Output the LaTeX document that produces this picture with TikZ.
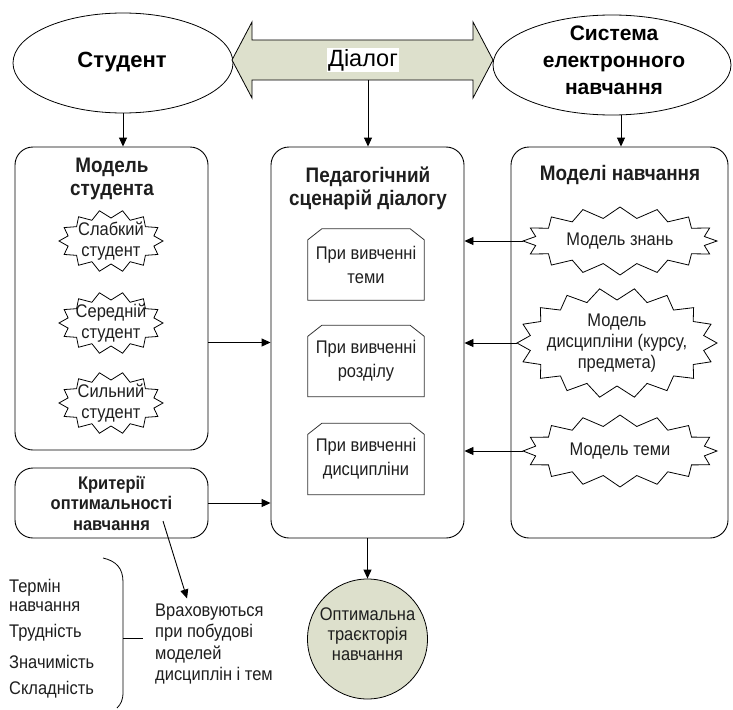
\documentclass[tikz,border=0pt]{standalone}
\usepackage{fontspec}
\setmainfont{Liberation Sans}[FakeStretch=0.9]
\newfontfamily\plainsans{Liberation Sans}
\usetikzlibrary{arrows.meta,shapes.geometric,calc}
\definecolor{olv}{RGB}{221,224,204}
\definecolor{txt}{RGB}{30,30,30}
\newcommand{\boom}[5]{%
  \draw[line width=0.8pt] ($(#1)+(#2,0)$)
   \foreach \k in {1,...,#5} {
     -- ($(#1)+({(#2-#4)*cos((\k-0.5)*360/#5)},{(#3-#4)*sin((\k-0.5)*360/#5)})$)
     -- ($(#1)+({#2*cos(\k*360/#5)},{#3*sin(\k*360/#5)})$)
   } -- cycle;}
\newcommand{\snipbox}[1]{%
  \draw[line width=0.8pt, draw=black!80] (#1.south west) -- ($(#1.north west)+(0,11)$)
    -- ($(#1.north west)+(14,0)$) -- ($(#1.north east)+(-14,0)$)
    -- ($(#1.north east)+(0,11)$) -- (#1.south east) -- cycle;}
\begin{document}
\begin{tikzpicture}[x=1pt,y=-1pt,
  arr/.style={-{Triangle[length=9pt,width=8pt]}, line width=0.9pt},
  panel/.style={draw, line width=0.9pt, rounded corners=18pt},
  ttl/.style={font=\bfseries\fontsize{21}{23}\selectfont, text=txt, align=center},
  reg/.style={font=\fontsize{18.3}{20}\selectfont, text=txt, align=center},
  starn/.style={rectangle, draw=none, inner sep=0pt, align=center, font=\fontsize{18.3}{21}\selectfont, text=txt},
  snipn/.style={draw=none, minimum width=116pt, minimum height=71pt, align=center, font=\fontsize{18.3}{24}\selectfont, text=txt},
  oval/.style={ellipse, draw, line width=0.8pt}
]
\useasboundingbox (0,0) rectangle (733,709);

% top ellipses
\node[oval, minimum width=220pt, minimum height=100pt] (stud) at (123,63) {};
\node[font=\plainsans\bfseries\fontsize{22}{28}\selectfont] (studt) at (122,62) {Студент};
\node[oval, minimum width=238pt, minimum height=100pt] (sys) at (612,65) {};
\node[align=center, font=\plainsans\bfseries\fontsize{21}{27}\selectfont] (syst) at (614,60) {Система\\електронного\\навчання};

% dialog double arrow
\draw[fill=olv, line width=0.8pt] (232,60) -- (252,22) -- (252,40) -- (473,40) -- (473,22)
  -- (493,60) -- (473,98) -- (473,80) -- (252,80) -- (252,98) -- cycle;
\node[fill=white, inner sep=1.5pt, font=\plainsans\fontsize{23.5}{27}\selectfont] (dlg) at (363,60) {Діалог};
\coordinate (dlgb) at (368,80);

% panels
\node[panel, minimum width=193pt, minimum height=303pt] (lp) at (111.5,298.5) {};
\node[panel, minimum width=193pt, minimum height=391pt] (mp) at (367.5,342.5) {};
\node[panel, minimum width=217pt, minimum height=391pt] (rp) at (619.5,342.5) {};
\node[panel, minimum width=193pt, minimum height=70pt] (cb) at (111.5,503) {};

\node[ttl] (lpt) at (112,179) {Модель\\студента};
\node[ttl] (mpt) at (368,188) {Педагогічний\\сценарій діалогу};
\node[ttl] (rpt) at (620,175) {Моделі навчання};
\node[ttl, font=\bfseries\fontsize{18.3}{20.5}\selectfont] (cbt) at (111.5,503) {Критерії\\оптимальності\\навчання};

% left starbursts
\node[starn, minimum width=102pt, minimum height=60pt] (s1) at (111,241) {Слабкий\\студент};
\node[starn, minimum width=102pt, minimum height=60pt] (s2) at (111,323) {Середній\\студент};
\node[starn, minimum width=102pt, minimum height=60pt] (s3) at (111,403) {Сильний\\студент};
\boom{s1}{52}{31}{8}{14}
\boom{s2}{52}{31}{8}{14}
\boom{s3}{52}{31}{8}{14}

% middle snipped boxes
\node[snipn] (r1) at (366,264.5) {При вивченні\\теми};
\node[snipn] (r2) at (366,361) {При вивченні\\розділу};
\node[snipn] (r3) at (366,459) {При вивченні\\дисципліни};
\snipbox{r1}
\snipbox{r2}
\snipbox{r3}

% right starbursts
\node[starn, minimum width=194pt, minimum height=68pt] (k1) at (620,241) {Модель знань};
\node[starn, minimum width=200pt, minimum height=110pt] (k2) at (617,343) {Модель\\дисципліни (курсу,\\предмета)};
\node[starn, minimum width=194pt, minimum height=72pt] (k3) at (620,451) {Модель теми};
\boom{k1}{97}{34}{11}{16}
\boom{k2}{100}{55}{12}{18}
\boom{k3}{97}{36}{11}{16}

% bottom
\node[circle, draw, fill=olv, line width=0.8pt, minimum size=120pt] (opt) at (367.5,639) {};
\node[reg] (optt) at (367.5,634) {Оптимальна\\траєкторія\\навчання};

\node[reg, align=left, anchor=west, inner sep=0pt, font=\fontsize{18.3}{21.5}\selectfont] (vr) at (155,644) {Враховуються\\при побудові\\моделей\\дисциплін і тем};
\coordinate (cst) at (163,521);

\node[reg, anchor=west, align=left, inner sep=0pt, font=\fontsize{18.3}{19}\selectfont] (l1) at (9,595.5) {Термін\\навчання};
\node[reg, anchor=west, inner sep=0pt] (l2) at (9,633) {Трудність};
\node[reg, anchor=west, inner sep=0pt] (l3) at (9,662) {Значимість};
\node[reg, anchor=west, inner sep=0pt] (l4) at (9,690) {Складність};

\coordinate (bt) at (103,558);
\coordinate (bm) at (123,638);
\coordinate (bb) at (117,708);
\coordinate (bk) at (143,638);
\draw[line width=0.8pt] (bt) .. controls (116,561) and (123,568) .. (123,582) -- (123,692) .. controls (123,700) and (121,704) .. (bb);
\draw[line width=0.8pt] (bm) -- (bk);

% connectors
\coordinate (sysb) at ($(sys.south)+(9,0)$);
\draw[arr] (stud.south) -- (stud.south |- lp.north);
\draw[arr] (dlgb) -- (dlgb |- mp.north);
\draw[arr] (sysb) -- (sysb |- rp.north);
\draw[arr] (lp.east |- mp.center) -- (mp.west |- mp.center);
\draw[arr] (cb.east) -- (cb.east -| mp.west);
\draw[arr] (k1.west) -- (k1.west -| mp.east);
\draw[arr] (k2.west) -- (k2.west -| mp.east);
\draw[arr] (k3.west) -- (k3.west -| mp.east);
\draw[arr] (mp.south) -- (opt.north);
\draw[arr] (cst) -- ($(vr.north west)+(32,-5)$);
\end{tikzpicture}
\end{document}
